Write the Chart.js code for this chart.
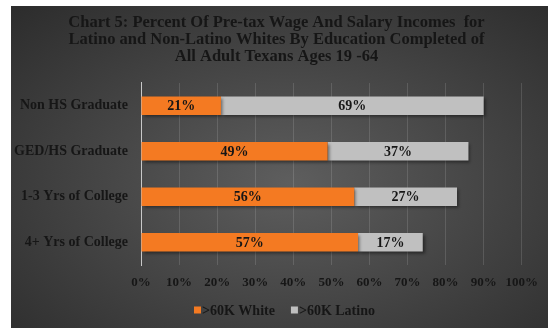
<!DOCTYPE html>
<html>
<head>
<meta charset="utf-8">
<script src="https://cdn.jsdelivr.net/npm/chart.js@4"></script>
<style>
  html, body { margin: 0; padding: 0; background: #fff; }
  #wrap {
    position: absolute; left: 11px; top: 6px; width: 537px; height: 322px;
    background: radial-gradient(ellipse at 52% 55%, #5e5e5e 0%, #474747 45%, #2c2c2c 100%);
  }
</style>
</head>
<body>
<div id="wrap"><canvas id="chart" width="537" height="322"></canvas></div>
<script>
// Data
const categories = ["Non HS Graduate", "GED/HS Graduate", "1-3 Yrs of College", "4+ Yrs of College"];
const whiteOver60k = [21, 49, 56, 57];
const latinoOver60k = [69, 37, 27, 17];
const seriesNames = [">60K White", ">60K Latino"];
const seriesColors = ["#f47a22", "#c0c0c0"];
const titleLines = [
  "Chart 5: Percent Of Pre-tax Wage And Salary Incomes  for",
  "Latino and Non-Latino Whites By Education Completed of",
  "All Adult Texans Ages 19 -64"
];

const serif = "'Liberation Serif', 'Times New Roman', serif";
const textColor = "#161616";

// bar shadow, value labels and a small legend under the axis
const barExtras = {
  id: "barExtras",
  afterLayout(chart) {
    // title sits a little right of the canvas centre
    if (chart.titleBlock) chart.titleBlock.left += 16;
  },
  beforeDatasetsDraw(chart) {
    const ctx = chart.ctx;
    ctx.save();
    ctx.shadowColor = "rgba(0,0,0,0.45)";
    ctx.shadowOffsetX = 2;
    ctx.shadowOffsetY = 2;
    ctx.shadowBlur = 3;
  },
  afterDatasetsDraw(chart) {
    const ctx = chart.ctx;
    ctx.restore();
    ctx.save();
    ctx.font = "bold 14px " + serif;
    ctx.fillStyle = textColor;
    ctx.textAlign = "center";
    ctx.textBaseline = "middle";
    chart.data.datasets.forEach((ds, i) => {
      chart.getDatasetMeta(i).data.forEach((bar, j) => {
        const x = (bar.x + bar.base) / 2;
        ctx.fillText(ds.data[j] + "%", x, bar.y + 1);
      });
    });
    ctx.restore();
  },
  afterDraw(chart) {
    const ctx = chart.ctx;
    ctx.save();
    ctx.font = "bold 14px " + serif;
    ctx.textBaseline = "middle";
    ctx.textAlign = "left";
    let x = 183;
    const y = 304;
    seriesNames.forEach((name, i) => {
      ctx.fillStyle = seriesColors[i];
      ctx.fillRect(x, y - 3.5, 7, 7);
      x += 8;
      ctx.fillStyle = textColor;
      ctx.fillText(name, x, y + 1);
      x += ctx.measureText(name).width + 16;
    });
    ctx.restore();
  }
};

new Chart(document.getElementById("chart"), {
  type: "bar",
  data: {
    labels: categories,
    datasets: [
      {
        label: seriesNames[0],
        data: whiteOver60k,
        backgroundColor: seriesColors[0],
        barPercentage: 0.41,
        categoryPercentage: 1
      },
      {
        label: seriesNames[1],
        data: latinoOver60k,
        backgroundColor: seriesColors[1],
        barPercentage: 0.41,
        categoryPercentage: 1
      }
    ]
  },
  options: {
    indexAxis: "y",
    responsive: false,
    animation: false,
    layout: { padding: { left: 0, right: 22, top: 0, bottom: 23 } },
    plugins: {
      title: {
        display: true,
        text: titleLines,
        color: textColor,
        font: { family: serif, size: 16.5, weight: "bold", lineHeight: 1.03 },
        padding: { top: 8, bottom: 18 }
      },
      legend: { display: false },
      tooltip: { enabled: false }
    },
    scales: {
      x: {
        stacked: true,
        min: 0,
        max: 100,
        ticks: {
          stepSize: 10,
          maxRotation: 0,
          autoSkip: false,
          color: textColor,
          font: { family: serif, size: 13, weight: "bold" },
          padding: 10,
          callback: v => v + "%"
        },
        grid: { color: "rgba(255,255,255,0.13)", drawTicks: false },
        border: { display: false },
        afterFit: scale => { scale.height = 40; }
      },
      y: {
        stacked: true,
        ticks: {
          color: textColor,
          font: { family: serif, size: 14, weight: "bold" },
          padding: 13
        },
        grid: { display: false, drawTicks: false },
        border: { color: "#c8c8c8", width: 1 },
        afterFit: scale => { scale.width = 130; }
      }
    }
  },
  plugins: [barExtras]
});
</script>
</body>
</html>
